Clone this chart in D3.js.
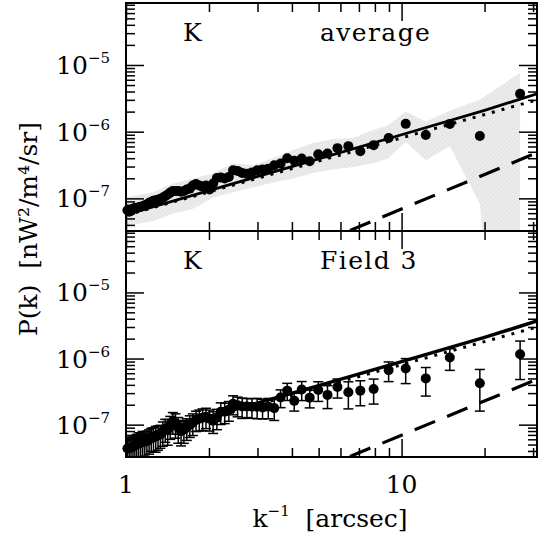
<!DOCTYPE html>
<html><head><meta charset="utf-8">
<script src="https://cdn.jsdelivr.net/npm/d3@7"></script>
<style>body{margin:0;background:#fff} svg{display:block}</style>
</head><body><svg id="c" width="539" height="545"></svg>
<script>
// k^-1 [arcsec] of each measured point
const kInv = [1.012,1.027,1.043,1.060,1.077,1.094,1.112,1.131,1.150,1.170,
  1.191,1.213,1.235,1.258,1.282,1.307,1.333,1.360,1.388,1.417,
  1.447,1.479,1.512,1.547,1.584,1.622,1.662,1.704,1.748,1.795,
  1.844,1.896,1.951,2.009,2.071,2.137,2.207,2.281,2.361,2.447,
  2.540,2.639,2.747,2.864,2.991,3.130,3.283,3.451,3.638,3.846,
  4.079,4.342,4.641,4.985,5.384,5.852,6.410,7.084,7.918,8.973,
  10.35,12.24,14.96,19.23,26.92];
// top panel: average P(k)
const avgP = [6.63e-8,6.29e-8,6.51e-8,6.99e-8,7.23e-8,7.1e-8,7.36e-8,7.5e-8,7.6e-8,7.89e-8,
  8.0e-8,8.6e-8,8.9e-8,9.2e-8,9.4e-8,9.55e-8,9.9e-8,1.02e-7,1.08e-7,1.14e-7,
  1.22e-7,1.29e-7,1.29e-7,1.29e-7,1.26e-7,1.29e-7,1.36e-7,1.40e-7,1.56e-7,1.64e-7,
  1.56e-7,1.50e-7,1.56e-7,1.36e-7,1.67e-7,2.02e-7,2.06e-7,1.99e-7,2.09e-7,2.63e-7,
  2.58e-7,2.41e-7,2.33e-7,2.45e-7,2.63e-7,2.72e-7,2.79e-7,3.13e-7,3.32e-7,4.0e-7,
  3.66e-7,3.96e-7,3.6e-7,4.59e-7,4.71e-7,5.66e-7,6.07e-7,5.1e-7,6.28e-7,8.03e-7,
  1.31e-6,8.9e-7,1.30e-6,8.6e-7,3.69e-6];
// bottom panel: Field 3 P(k) and relative 1-sigma errors
const f3P = [4.37e-8,4.44e-8,4.52e-8,4.68e-8,4.84e-8,5.01e-8,5.19e-8,5.32e-8,5.56e-8,5.56e-8,
  5.62e-8,5.96e-8,6.38e-8,6.38e-8,6.6e-8,6.84e-8,7.08e-8,7.85e-8,8.71e-8,8.41e-8,
  9.66e-8,1.12e-7,1.04e-7,9.02e-8,7.94e-8,8.41e-8,9.02e-8,1.0e-7,1.07e-7,1.19e-7,
  1.23e-7,1.27e-7,1.32e-7,1.23e-7,1.15e-7,1.27e-7,1.57e-7,1.57e-7,1.68e-7,2.07e-7,
  1.96e-7,1.88e-7,1.88e-7,1.86e-7,1.86e-7,1.82e-7,1.86e-7,1.78e-7,2.58e-7,3.27e-7,
  2.29e-7,3.40e-7,2.56e-7,3.35e-7,2.82e-7,3.71e-7,3.09e-7,3.27e-7,3.47e-7,6.68e-7,
  7.08e-7,5.01e-7,1.035e-6,4.22e-7,1.16e-6];
const f3Err = [0.45,0.45,0.42,0.45,0.4,0.42,0.45,0.4,0.42,0.4,
  0.42,0.4,0.38,0.4,0.42,0.4,0.38,0.4,0.38,0.42,
  0.38,0.36,0.4,0.42,0.4,0.38,0.36,0.36,0.36,0.34,
  0.35,0.36,0.34,0.35,0.36,0.34,0.36,0.34,0.33,0.32,
  0.33,0.34,0.32,0.33,0.34,0.33,0.34,0.35,0.3,0.29,
  0.3,0.32,0.3,0.33,0.38,0.32,0.44,0.41,0.41,0.33,
  0.41,0.46,0.36,0.62,0.585];
// shaded uncertainty band (top panel)
const bandX = [1.0,1.253,1.481,1.750,2.068,2.444,2.888,3.414,4.034,4.768,5.635,6.659,7.870,8.97,10.35,12.24,14.96,19.23,26.92];
const bandHi = [1.04e-7,1.23e-7,1.67e-7,1.99e-7,2.36e-7,3.36e-7,3.13e-7,4.0e-7,5.29e-7,6.75e-7,7.76e-7,8.03e-7,1.06e-6,1.26e-6,2.01e-6,1.42e-6,2.06e-6,3.02e-6,7.67e-6];
const bandLo = [3.86e-8,4.59e-8,5.86e-8,6.93e-8,1.03e-7,1.23e-7,1.45e-7,1.73e-7,1.99e-7,2.41e-7,2.72e-7,2.95e-7,3.36e-7,4.0e-7,6.98e-7,3.73e-7,6.07e-7,8.3e-8,1e-14];
// model curves
const totalX = [1,2,5,10,20,31];
const totalP = [5.7e-8,1.31e-7,3.9e-7,9.0e-7,2.09e-6,3.7e-6];
const powX = [1,31];
const powP = [5.6e-8,3.0e-6];
const dashX = [6.5,31];
const dashP = [3.3e-8,4.85e-7];
// text
const panelTitles = [["K","average"],["K","Field 3"]];
const yTickExps = [-7,-6,-5];
const xTickLabels = [1,10];
const xTitle = "k";
const yTitle = "P(k)  [nW²/m⁴/sr]";

const svg = d3.select("#c");
const font = "DejaVu Serif";
const L = 126, R = 537;
const x = d3.scaleLog().domain([1,31]).range([L,R]);
const panels = [
  {top:3, bot:231, data:avgP, band:true, err:false},
  {top:231, bot:457, data:f3P, band:false, err:true}
];

const defs = svg.append("defs");
const pat = defs.append("pattern").attr("id","hatch").attr("width",3).attr("height",3)
  .attr("patternUnits","userSpaceOnUse").attr("patternTransform","rotate(45)");
pat.append("rect").attr("width",3).attr("height",3).attr("fill","#ececec");
pat.append("line").attr("x1",0).attr("y1",0).attr("x2",0).attr("y2",3).attr("stroke","#d9d9d9").attr("stroke-width",1);

const xMajor = [1,10];
const xMinor = [2,3,4,5,6,7,8,9,20,30];
const yMajor = [1e-7,1e-6,1e-5];
const yMinor = [];
[-8,-7,-6,-5].forEach(e=>{for(let m=2;m<=9;m++){yMinor.push(m*Math.pow(10,e));}});

panels.forEach((p,i)=>{
  const y = d3.scaleLog().domain([3.24e-8,8.5e-5]).range([p.bot,p.top]);
  const ymin = y.domain()[0], ymax=y.domain()[1];
  const g = svg.append("g");
  defs.append("clipPath").attr("id","clip"+i).append("rect")
    .attr("x",L).attr("y",p.top).attr("width",R-L).attr("height",p.bot-p.top);
  const cg = g.append("g").attr("clip-path",`url(#clip${i})`);

  if (p.band){
    const bd = bandX.map((v,j)=>({x:v,lo:bandLo[j],hi:bandHi[j]}));
    cg.append("path").datum(bd)
      .attr("d", d3.area().x(d=>x(d.x)).y0(d=>y(d.lo)).y1(d=>y(d.hi)))
      .attr("fill","url(#hatch)");
  }
  // model lines
  const ln = d3.line().x(d=>x(d[0])).y(d=>y(d[1]));
  cg.append("path").datum(powX.map((v,j)=>[v,powP[j]])).attr("d",ln)
    .attr("fill","none").attr("stroke","#000").attr("stroke-width",3).attr("stroke-dasharray","3,7");
  cg.append("path").datum(totalX.map((v,j)=>[v,totalP[j]])).attr("d",ln)
    .attr("fill","none").attr("stroke","#000").attr("stroke-width",i?3.5:2.8);
  cg.append("path").datum(dashX.map((v,j)=>[v,dashP[j]])).attr("d",ln)
    .attr("fill","none").attr("stroke","#000").attr("stroke-width",3.2).attr("stroke-dasharray","22,13");

  if (p.err){
    kInv.forEach((v,j)=>{
      const val = p.data[j], e = f3Err[j];
      const y1 = y(val*(1+e)), y0 = y(val*(1-e));
      const xx = x(v);
      cg.append("line").attr("x1",xx).attr("x2",xx).attr("y1",y1).attr("y2",y0).attr("stroke","#000").attr("stroke-width",1.5);
      cg.append("line").attr("x1",xx-5).attr("x2",xx+5).attr("y1",y1).attr("y2",y1).attr("stroke","#000").attr("stroke-width",1.5);
      cg.append("line").attr("x1",xx-5).attr("x2",xx+5).attr("y1",y0).attr("y2",y0).attr("stroke","#000").attr("stroke-width",1.5);
    });
  }
  g.selectAll("circle.pt").data(kInv.map((v,j)=>[v,p.data[j]])).enter().append("circle")
    .attr("cx",d=>x(d[0])).attr("cy",d=>y(d[1])).attr("r",5).attr("fill","#000");

  // ticks via axes (inward)
  const ax = (gen, tr, vals, size)=>{
    const a = g.append("g").attr("transform",tr).call(gen.tickValues(vals).tickSize(size).tickSizeOuter(0).tickFormat(""));
    a.select(".domain").remove();
    a.selectAll(".tick line").attr("stroke","#000").attr("stroke-width",1.5);
  };
  const yMinIn = yMinor.filter(v=>v>=ymin&&v<=ymax);
  ax(d3.axisRight(y), `translate(${L},0)`, yMajor, 18);
  ax(d3.axisRight(y), `translate(${L},0)`, yMinIn, 9);
  ax(d3.axisLeft(y), `translate(${R},0)`, yMajor, 18);
  ax(d3.axisLeft(y), `translate(${R},0)`, yMinIn, 9);
  ax(d3.axisBottom(x), `translate(0,${p.top})`, xMajor, 18);
  ax(d3.axisBottom(x), `translate(0,${p.top})`, xMinor, 9);
  ax(d3.axisTop(x), `translate(0,${p.bot})`, xMajor, 18);
  ax(d3.axisTop(x), `translate(0,${p.bot})`, xMinor, 9);

  g.append("rect").attr("x",L).attr("y",p.top).attr("width",R-L).attr("height",p.bot-p.top)
    .attr("fill","none").attr("stroke","#000").attr("stroke-width",2);

  // y tick labels
  yTickExps.forEach(e=>{
    const t = g.append("text").attr("x",110).attr("y",y(Math.pow(10,e))+9)
      .attr("text-anchor","end").attr("font-family",font).attr("font-size",25);
    t.append("tspan").text("10");
    t.append("tspan").attr("dy",-11).attr("font-size",15).text("−"+Math.abs(e));
  });
  // panel titles
  const ty = p.top + 38;
  g.append("text").attr("x",183).attr("y",ty).attr("font-family",font).attr("font-size",25).text(panelTitles[i][0]);
  g.append("text").attr("x",320).attr("y",ty).attr("font-family",font).attr("font-size",25)
    .attr("letter-spacing",1.4).attr("xml:space","preserve").text(panelTitles[i][1]);
});

// x tick labels
xTickLabels.forEach(v=>{
  svg.append("text").attr("x",x(v)).attr("y",493).attr("text-anchor","middle")
    .attr("font-family",font).attr("font-size",25).text(v);
});
// x title
const xt = svg.append("text").attr("x",330).attr("y",527).attr("text-anchor","middle")
  .attr("font-family",font).attr("font-size",25);
xt.append("tspan").text(xTitle);
xt.append("tspan").attr("dy",-11).attr("font-size",15).text("−1");
xt.append("tspan").attr("dy",11).attr("xml:space","preserve").text("  [arcsec]");
// y title
svg.append("text").attr("transform","translate(37,229) rotate(-90)").attr("text-anchor","middle")
  .attr("font-family",font).attr("font-size",25).attr("xml:space","preserve").text(yTitle);
</script></body></html>
